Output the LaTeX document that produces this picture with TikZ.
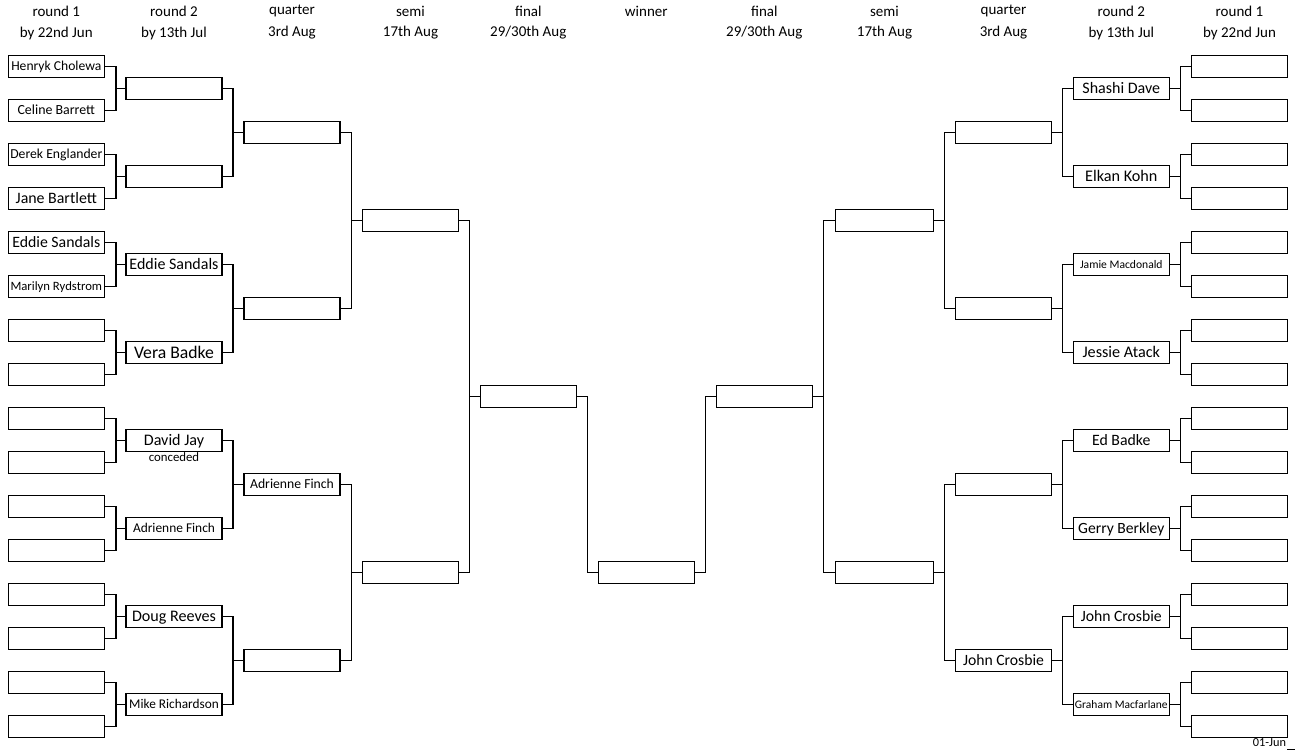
\documentclass[tikz,border=0pt]{standalone}
\usepackage{fontspec}
\setmainfont{Carlito}
\newcommand{\fsz}[1]{\fontsize{#1pt}{#1pt}\selectfont}
\tikzset{
  bx/.style={draw, line width=1.2pt, minimum width=96pt, minimum height=22pt, inner sep=0pt},
  bxs/.style={bx, font=\fsz{#1}, text height={0.66*#1*1pt}, text depth=0pt},
  wbx/.style={bx, minimum width=98pt},
  conn/.style={line width=1.2pt},
  hdr/.style={inner sep=0pt, font=\fsz{15}},
}
\begin{document}
\begin{tikzpicture}[x=1pt,y=-1pt]
\useasboundingbox (0,0) rectangle (1298,750);
% connector columns
\coordinate (c1) at (116,0);
\coordinate (c2) at (233,0);
\coordinate (c3) at (351.3,0);
\coordinate (c4) at (469.3,0);
\coordinate (c5) at (587.3,0);
\coordinate (c6) at (705.3,0);
\coordinate (c7) at (823.3,0);
\coordinate (c8) at (944.3,0);
\coordinate (c9) at (1062.3,0);
\coordinate (c10) at (1180.3,0);
% headers
\foreach \x/\a/\b [count=\k] in {56.3/round 1/by 22nd Jun, 174/round 2/by 13th Jul, 292/quarter/3rd Aug, 410.5/semi/17th Aug, 528.3/final/29\slash30th Aug, 764.3/final/29\slash30th Aug, 884.5/semi/17th Aug, 1003.5/quarter/3rd Aug, 1121.3/round 2/by 13th Jul, 1239.5/round 1/by 22nd Jun}{
  \node[hdr] (ha\k) at (\x,11) {\a};
  \node[hdr] (hb\k) at (\x,33) {\b};
}
\node[hdr] (hw) at (646.3,11) {winner};
% left round 1
\foreach \t/\s [count=\i from 0] in {{Henryk Cholewa}/13.6, {Celine Barrett}/13.9, {Derek Englander}/13.7, {Jane Bartlett}/15.9, {Eddie Sandals}/15.8, {Marilyn Rydstrom}/12.7, {}/14, {}/14, {}/14, {}/14, {}/14, {}/14, {}/14, {}/14, {}/14, {}/14}{
  \node[bxs=\s] (l1-\i) at (56.3,{66.3+44*\i}) {\t};
}
% left round 2
\foreach \t/\s [count=\i from 0] in {{}/14, {}/14, {Eddie Sandals}/16, {Vera Badke}/17.7, {David Jay}/16.1, {Adrienne Finch}/13.4, {Doug Reeves}/16.1, {Mike Richardson}/13.3}{
  \node[bxs=\s] (l2-\i) at (174,{88.3+88*\i}) {\t};
}
% left quarter
\foreach \t/\s [count=\i from 0] in {{}/14, {}/14, {Adrienne Finch}/13.7, {}/14}{
  \node[bxs=\s] (lq-\i) at (292,{132.3+176*\i}) {\t};
}
% left semi
\foreach \i in {0,1}{
  \node[bx] (ls-\i) at (410.5,{220.3+352*\i}) {};
}
\node[bx] (lf) at (528.3,396.3) {};
\node[bx] (w) at (646.3,572.3) {};
\node[bx] (rf) at (764.3,396.3) {};
% right semi
\foreach \i in {0,1}{
  \node[wbx] (rs-\i) at (884.5,{220.3+352*\i}) {};
}
% right quarter
\foreach \t/\s [count=\i from 0] in {{}/14, {}/14, {}/14, {John Crosbie}/15.7}{
  \node[bxs=\s] (rq-\i) at (1003.5,{132.3+176*\i}) {\t};
}
% right round 2
\foreach \t/\s [count=\i from 0] in {{Shashi Dave}/16, {Elkan Kohn}/16.2, {Jamie Macdonald}/11.6, {Jessie Atack}/16.2, {Ed Badke}/15.8, {Gerry Berkley}/15.6, {John Crosbie}/15.7, {Graham Macfarlane}/11.5}{
  \node[bxs=\s] (r2-\i) at (1121.3,{88.3+88*\i}) {\t};
}
% right round 1
\foreach \i in {0,...,15}{
  \node[bx] (r1-\i) at (1239.5,{66.3+44*\i}) {};
}
% extra texts
\node[inner sep=0pt, font=\fsz{12.8}] (conc) at (174,457) {conceded};
\node[inner sep=0pt, font=\fsz{12.3}] (date) at (1269.5,743) {01-Jun};
\draw[line width=1pt] (1287,749.3) -- (1295,749.3);
% connectors
\foreach \i in {0,...,7}{
  \pgfmathtruncatemacro\a{2*\i}
  \pgfmathtruncatemacro\b{2*\i+1}
  \draw[conn] (l1-\a.east) -- (l1-\a.east -| c1) |- (l2-\i.west);
  \draw[conn] (l1-\b.east) -- (l1-\b.east -| c1) |- (l2-\i.west);
  \draw[conn] (r1-\a.west) -- (r1-\a.west -| c10) |- (r2-\i.east);
  \draw[conn] (r1-\b.west) -- (r1-\b.west -| c10) |- (r2-\i.east);
}
\foreach \i in {0,...,3}{
  \pgfmathtruncatemacro\a{2*\i}
  \pgfmathtruncatemacro\b{2*\i+1}
  \draw[conn] (l2-\a.east) -- (l2-\a.east -| c2) |- (lq-\i.west);
  \draw[conn] (l2-\b.east) -- (l2-\b.east -| c2) |- (lq-\i.west);
  \draw[conn] (r2-\a.west) -- (r2-\a.west -| c9) |- (rq-\i.east);
  \draw[conn] (r2-\b.west) -- (r2-\b.west -| c9) |- (rq-\i.east);
}
\foreach \i in {0,1}{
  \pgfmathtruncatemacro\a{2*\i}
  \pgfmathtruncatemacro\b{2*\i+1}
  \draw[conn] (lq-\a.east) -- (lq-\a.east -| c3) |- (ls-\i.west);
  \draw[conn] (lq-\b.east) -- (lq-\b.east -| c3) |- (ls-\i.west);
  \draw[conn] (rq-\a.west) -- (rq-\a.west -| c8) |- (rs-\i.east);
  \draw[conn] (rq-\b.west) -- (rq-\b.west -| c8) |- (rs-\i.east);
}
\draw[conn] (ls-0.east) -- (ls-0.east -| c4) |- (lf.west);
\draw[conn] (ls-1.east) -- (ls-1.east -| c4) |- (lf.west);
\draw[conn] (rs-0.west) -- (rs-0.west -| c7) |- (rf.east);
\draw[conn] (rs-1.west) -- (rs-1.west -| c7) |- (rf.east);
\draw[conn] (lf.east) -- (lf.east -| c5) |- (w.west);
\draw[conn] (rf.west) -- (rf.west -| c6) |- (w.east);
\end{tikzpicture}
\end{document}
